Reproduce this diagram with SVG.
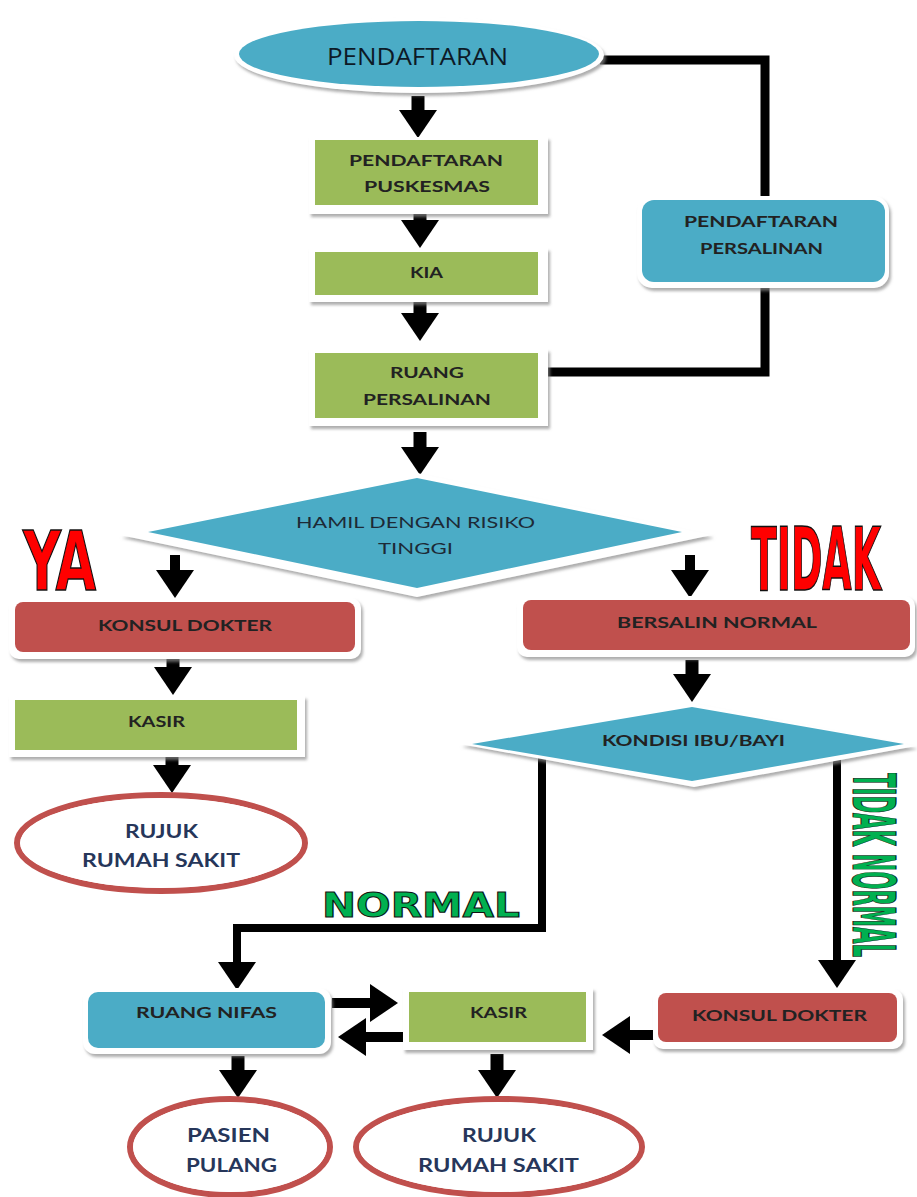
<svg xmlns="http://www.w3.org/2000/svg" width="917" height="1197" viewBox="0 0 917 1197">
<style>
.frame{fill:#ffffff;filter:url(#sh)}
.green{fill:#9BBB59}
.blue{fill:#4BACC6}
.red{fill:#C0504D}
.lbl{font-family:Lato,"Open Sans","Liberation Sans",sans-serif;font-weight:bold;font-size:16px;fill:#222222;text-anchor:start}
.reg{font-family:Lato,"Open Sans","Liberation Sans",sans-serif;font-weight:normal;font-size:15px;fill:#1d2a36}
.ell{font-family:Lato,"Open Sans","Liberation Sans",sans-serif;font-weight:bold;font-size:19px;fill:#26365a}
.ring{fill:#ffffff;stroke:#C0504D;stroke-width:6}
.ringin{fill:none;stroke:#ffffff;stroke-width:1.5}
.big{font-family:"Liberation Sans Narrow","DejaVu Sans Condensed","Liberation Sans",sans-serif;font-weight:bold;fill:#FF0000;stroke:#111111;stroke-width:1.5}
.grn{font-family:"DejaVu Sans","Liberation Sans",sans-serif;font-weight:bold;fill:#00B050;stroke:#111111;stroke-width:1}
.arr{stroke:#000000;fill:none;marker-end:url(#ah)}
.elb{stroke:#000000;fill:none;stroke-width:9}
</style>
<defs>
<filter id="sh" x="-10%" y="-20%" width="120%" height="150%">
<feDropShadow dx="2" dy="3" stdDeviation="1.5" flood-color="#8a8a8a" flood-opacity="0.7"/>
</filter>
<marker id="ah" markerUnits="userSpaceOnUse" markerWidth="28" markerHeight="38" refX="0" refY="19" orient="auto">
<path d="M0,0 L28,19 L0,38 z" fill="#000000"/>
</marker>
</defs>

<g id="connectors">
<polyline class="elb" points="600,60 765,60 765,200"/>
<polyline class="elb" points="546,372 765,372 765,284"/>
<line class="arr" stroke-width="13" x1="418" y1="96" x2="418" y2="110"/>
<line class="arr" stroke-width="13" x1="420" y1="210" x2="420" y2="220"/>
<line class="arr" stroke-width="13" x1="420" y1="300" x2="420" y2="313"/>
<line class="arr" stroke-width="13" x1="420" y1="432" x2="420" y2="447"/>
<line class="arr" stroke-width="10" x1="175" y1="555" x2="175" y2="570"/>
<line class="arr" stroke-width="10" x1="690" y1="555" x2="690" y2="570"/>
<line class="arr" stroke-width="13" x1="173" y1="655" x2="173" y2="667"/>
<line class="arr" stroke-width="13" x1="172" y1="754" x2="172" y2="765"/>
<line class="arr" stroke-width="13" x1="692" y1="660" x2="692" y2="674"/>
<polyline class="arr" stroke-width="8" points="542,757 542,928 237,928 237,962"/>
<line class="arr" stroke-width="8" x1="837" y1="757" x2="837" y2="960"/>
<line class="arr" stroke-width="10" x1="332" y1="1003" x2="370" y2="1003"/>
<line class="arr" stroke-width="10" x1="406" y1="1037" x2="366" y2="1037"/>
<line class="arr" stroke-width="10" x1="658" y1="1035" x2="630" y2="1035"/>
<line class="arr" stroke-width="13" x1="238" y1="1056" x2="238" y2="1070"/>
<line class="arr" stroke-width="13" x1="497" y1="1054" x2="497" y2="1070"/>
</g>

<g id="n-pendaftaran">
<ellipse class="frame" cx="419" cy="55" rx="185" ry="38"/>
<ellipse class="blue" cx="419" cy="54" rx="180" ry="33"/>
<text x="327" y="65" textLength="181" lengthAdjust="spacingAndGlyphs" style="font-family:'Open Sans','Liberation Sans',sans-serif;font-size:24px;fill:#0d1a26">PENDAFTARAN</text>
</g>

<g id="n-puskesmas">
<rect class="frame" x="309" y="137" width="239" height="77"/>
<rect class="green" x="315" y="140" width="223" height="65"/>
<text class="lbl" x="349" y="166" textLength="154" lengthAdjust="spacingAndGlyphs">PENDAFTARAN</text>
<text class="lbl" x="364" y="192" textLength="126" lengthAdjust="spacingAndGlyphs">PUSKESMAS</text>
</g>

<g id="n-kia">
<rect class="frame" x="309" y="248" width="239" height="54"/>
<rect class="green" x="315" y="252" width="223" height="43"/>
<text class="lbl" x="410" y="278" textLength="33" lengthAdjust="spacingAndGlyphs">KIA</text>
</g>

<g id="n-ruang-persalinan">
<rect class="frame" x="309" y="349" width="239" height="77"/>
<rect class="green" x="315" y="353" width="223" height="65"/>
<text class="lbl" x="390" y="378" textLength="74" lengthAdjust="spacingAndGlyphs">RUANG</text>
<text class="lbl" x="363" y="405" textLength="128" lengthAdjust="spacingAndGlyphs">PERSALINAN</text>
</g>

<g id="n-pendaftaran-persalinan">
<rect class="frame" x="637" y="196" width="252" height="92" rx="15"/>
<rect class="blue" x="642" y="200" width="243" height="82" rx="12"/>
<text class="lbl" x="684" y="227" textLength="154" lengthAdjust="spacingAndGlyphs">PENDAFTARAN</text>
<text class="lbl" x="700" y="254" textLength="123" lengthAdjust="spacingAndGlyphs">PERSALINAN</text>
</g>

<g id="n-hamil">
<polygon class="frame" points="417,473 712,535 417,597 120,535"/>
<polygon class="blue" points="417,478 682,532 417,588 148,532"/>
<text class="reg" x="296" y="528" textLength="239" lengthAdjust="spacingAndGlyphs">HAMIL DENGAN RISIKO</text>
<text class="reg" x="378" y="554" textLength="75" lengthAdjust="spacingAndGlyphs">TINGGI</text>
</g>

<g id="label-ya">
<text class="big" x="23" y="590" font-size="82" textLength="73" lengthAdjust="spacingAndGlyphs">YA</text>
</g>
<g id="label-tidak">
<text class="big" x="751" y="590" font-size="88" textLength="130" lengthAdjust="spacingAndGlyphs">TIDAK</text>
</g>

<g id="n-konsul-kiri">
<rect class="frame" x="9" y="598" width="352" height="61" rx="10"/>
<rect class="red" x="15" y="602" width="340" height="50" rx="8"/>
<text class="lbl" x="98" y="631" textLength="174" lengthAdjust="spacingAndGlyphs">KONSUL DOKTER</text>
</g>

<g id="n-bersalin">
<rect class="frame" x="517" y="596" width="398" height="61" rx="10"/>
<rect class="red" x="523" y="600" width="387" height="50" rx="8"/>
<text class="lbl" x="617" y="628" textLength="200" lengthAdjust="spacingAndGlyphs">BERSALIN NORMAL</text>
</g>

<g id="n-kasir-kiri">
<rect class="frame" x="9" y="696" width="296" height="61"/>
<rect class="green" x="15" y="700" width="282" height="50"/>
<text class="lbl" x="128" y="727" textLength="57" lengthAdjust="spacingAndGlyphs">KASIR</text>
</g>

<g id="n-rujuk-kiri">
<ellipse class="ring" cx="161" cy="843" rx="144" ry="48"/>
<ellipse class="ringin" cx="161" cy="843" rx="140" ry="44"/>
<text class="ell" x="125" y="838" textLength="73" lengthAdjust="spacingAndGlyphs">RUJUK</text>
<text class="ell" x="82" y="867" textLength="158" lengthAdjust="spacingAndGlyphs">RUMAH SAKIT</text>
</g>

<g id="n-kondisi">
<polygon class="frame" points="692,703 916,746 694,787 460,744"/>
<polygon class="blue" points="692,707 904,744 692,781 472,744"/>
<text class="lbl" x="602" y="746" textLength="183" lengthAdjust="spacingAndGlyphs">KONDISI IBU/BAYI</text>
</g>

<g id="label-normal">
<text class="grn" x="322" y="917" font-size="33" textLength="198" lengthAdjust="spacingAndGlyphs">NORMAL</text>
</g>
<g id="label-tidak-normal">
<text class="grn" transform="translate(853,773) rotate(90)" x="0" y="0" font-size="58" textLength="184" lengthAdjust="spacingAndGlyphs">TIDAK NORMAL</text>
</g>

<g id="n-ruang-nifas">
<rect class="frame" x="83" y="988" width="248" height="66" rx="12"/>
<rect class="blue" x="88" y="992" width="237" height="56" rx="10"/>
<text class="lbl" x="136" y="1018" textLength="141" lengthAdjust="spacingAndGlyphs">RUANG NIFAS</text>
</g>

<g id="n-kasir-bawah">
<rect class="frame" x="403" y="988" width="190" height="62"/>
<rect class="green" x="409" y="992" width="177" height="50"/>
<text class="lbl" x="470" y="1018" textLength="57" lengthAdjust="spacingAndGlyphs">KASIR</text>
</g>

<g id="n-konsul-bawah">
<rect class="frame" x="653" y="989" width="250" height="60" rx="10"/>
<rect class="red" x="658" y="993" width="239" height="49" rx="8"/>
<text class="lbl" x="692" y="1021" textLength="175" lengthAdjust="spacingAndGlyphs">KONSUL DOKTER</text>
</g>

<g id="n-pasien-pulang">
<ellipse class="ring" cx="230" cy="1147" rx="100" ry="48"/>
<ellipse class="ringin" cx="230" cy="1147" rx="96" ry="44"/>
<text class="ell" x="187" y="1142" textLength="83" lengthAdjust="spacingAndGlyphs">PASIEN</text>
<text class="ell" x="186" y="1172" textLength="91" lengthAdjust="spacingAndGlyphs">PULANG</text>
</g>

<g id="n-rujuk-bawah">
<ellipse class="ring" cx="499" cy="1147" rx="143" ry="48"/>
<ellipse class="ringin" cx="499" cy="1147" rx="139" ry="44"/>
<text class="ell" x="462" y="1142" textLength="74" lengthAdjust="spacingAndGlyphs">RUJUK</text>
<text class="ell" x="418" y="1172" textLength="161" lengthAdjust="spacingAndGlyphs">RUMAH SAKIT</text>
</g>
</svg>
